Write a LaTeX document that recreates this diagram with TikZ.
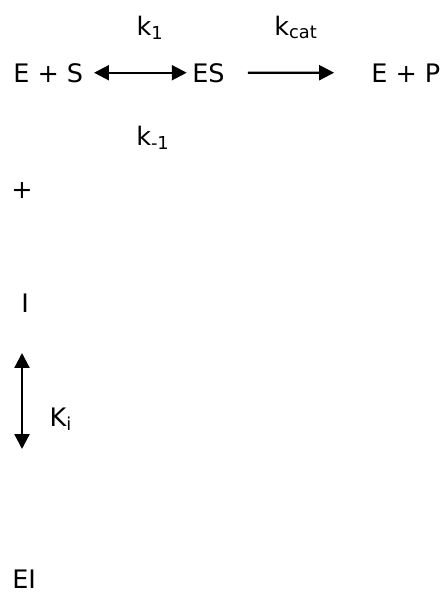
\documentclass[tikz,border=0pt]{standalone}
\usepackage{fontspec}
\setmainfont{DejaVu Sans}
\usepackage{tikz}
\usetikzlibrary{calc,positioning,arrows.meta}

\tikzset{
  species/.style={inner sep=0pt,anchor=base west,font=\fontsize{14.5}{17}\selectfont},
  rate/.style={inner sep=0pt,anchor=base,font=\fontsize{14.5}{17}\selectfont},
  react/.style={line width=1.3pt,-{Triangle[length=8.5pt,width=8.5pt]}},
  equil/.style={line width=1.3pt,{Triangle[length=8.5pt,width=8.5pt]}-{Triangle[length=8.5pt,width=8.5pt]}}
}

\begin{document}
\begin{tikzpicture}[x=0.02cm,y=-0.02cm]
\useasboundingbox (0,0) rectangle (444,592);
% top row
\node[species] (ES1) at (13,82) {E + S};
\node[species] (ES) at (192,82) {ES};
\node[species] (EP) at (371,82) {E + P};
\draw[equil,shorten <=6pt,shorten >=3pt] (ES1) -- (ES);
\draw[react,shorten <=13pt,shorten >=21pt] (ES) -- (EP);
\node[rate] (k1) at (150,35) {k\textsubscript{1}};
\node[rate] (kcat) at (296,35) {k\textsubscript{cat}};
\node[rate] (km1) at (153,145) {k\textsubscript{-1}};
% inhibitor
\node[species] (plus) at (11,198) {+};
\node[species] (I) at (21,312) {I};
\coordinate (kitop) at (22,353);
\coordinate (kibot) at (22,449);
\draw[equil] (kitop) -- (kibot);
\node[rate] (Ki) at (61,426) {K\textsubscript{i}};
\node[species] (EI) at (12,588) {EI};
\end{tikzpicture}
\end{document}
